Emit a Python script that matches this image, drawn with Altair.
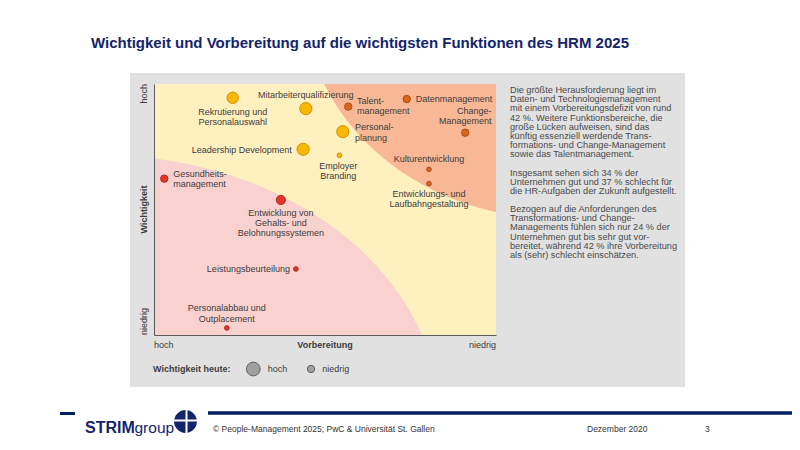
import altair as alt
import pandas as pd
import numpy as np

# ---------------- data ----------------
funktionen = [
    "Rekrutierung und\nPersonalauswahl", "Mitarbeiterqualifizierung", "Talent-\nmanagement",
    "Datenmanagement", "Change-\nManagement", "Personal-\nplanung", "Leadership Development",
    "Employer\nBranding", "Kulturentwicklung", "Entwicklungs- und\nLaufbahngestaltung",
    "Gesundheits-\nmanagement", "Entwicklung von\nGehalts- und\nBelohnungssystemen",
    "Leistungsbeurteilung", "Personalabbau und\nOutplacement",
]
vorbereitung = [23.0, 44.4, 56.8, 73.9, 91.0, 55.2, 43.6, 54.2, 80.4, 80.4, 3.0, 37.1, 41.5, 21.3]
wichtigkeit = [94.5, 90.2, 91.0, 94.0, 80.6, 81.0, 74.0, 71.6, 66.0, 60.3, 62.3, 53.8, 26.3, 2.8]
heute = [130, 150, 55, 55, 55, 150, 150, 22, 22, 22, 55, 85, 22, 22]
zone = ["gelb", "gelb", "orange", "orange", "orange", "gelb", "gelb", "gelb",
        "orange", "orange", "rot", "rot", "rot", "rot"]
# label placement relative to the point (px, first text line) and alignment
label_dx = [0, 0, 8.7, 9, 26.4, 12.3, -11.3, -1, 0, 0, 9, 0, -6, 0]
label_dy = [14, -13.7, -5.7, 0, -21.7, -4.4, 1, 10.7, -10, 10.3, -4.7, 12.7, 0.3, -19.7]
label_align = ["center", "center", "left", "left", "right", "left", "right", "center",
               "center", "center", "left", "center", "right", "center"]

side_paragraphs = [
    "Die größte Herausforderung liegt im\n"
    "Daten- und Technologiemanagement\n"
    "mit einem Vorbereitungsdefizit von rund\n"
    "42 %. Weitere Funktionsbereiche, die\n"
    "große Lücken aufweisen, sind das\n"
    "künftig essenziell werdende Trans-\n"
    "formations- und Change-Management\n"
    "sowie das Talentmanagement.",
    "Insgesamt sehen sich 34 % der\n"
    "Unternehmen gut und 37 % schlecht für\n"
    "die HR-Aufgaben der Zukunft aufgestellt.",
    "Bezogen auf die Anforderungen des\n"
    "Transformations- und Change-\n"
    "Managements fühlen sich nur 24 % der\n"
    "Unternehmen gut bis sehr gut vor-\n"
    "bereitet, während 42 % ihre Vorbereitung\n"
    "als (sehr) schlecht einschätzen.",
]

# zone shapes (ellipse parameters in data units)
pink_c, pink_ax = (-15.8, -33.9), (99.4, 105.6)
orange_c, orange_ax = (118.7, 133.5), (74.6, 87.3)

# ---------------- geometry ----------------
W, H = 342, 251
FONT = "Liberation Sans"
NAVY = "#14246a"
TXT = "#3c3c3c"

df = pd.DataFrame({
    "funktion": funktionen, "x": vorbereitung, "y": wichtigkeit,
    "heute": heute, "zone": zone,
    "dx": label_dx, "dy": label_dy, "align": label_align,
})
df["lx"] = df["x"] + df["dx"] / W * 100
df["ly"] = df["y"] - df["dy"] / H * 100

# pink zone (bottom-left)
cx, cy = pink_c; a, b = pink_ax
xe = cx + a * np.sqrt(1 - (cy / b) ** 2)
xs = np.linspace(0, xe, 120)
ys = np.clip(cy + b * np.sqrt(np.clip(1 - ((xs - cx) / a) ** 2, 0, None)), 0, 100)
pink = pd.DataFrame({"x": xs, "y": ys, "y2": 0.0})

# orange zone (top-right)
cx, cy = orange_c; a, b = orange_ax
xs0 = cx - a * np.sqrt(1 - ((100 - cy) / b) ** 2)
xs = np.linspace(xs0, 100, 120)
ys = np.clip(cy - b * np.sqrt(np.clip(1 - ((xs - cx) / a) ** 2, 0, None)), 0, 100)
orange = pd.DataFrame({"x": xs, "y": ys, "y2": 100.0})

xsc = alt.Scale(domain=[0, 100], nice=False, zero=False)
ysc = alt.Scale(domain=[0, 100], nice=False, zero=False)
ax_style = dict(labels=False, ticks=False, title=None, grid=False, domain=True,
                domainColor="#5a5a5a", domainWidth=1, zindex=1)

one = pd.DataFrame({"a": [0]})

def vtext(text, x, y, size=9, bold=False, align="left", baseline="middle", color=TXT,
          angle=0, line_height=None):
    kw = dict(text=text, font=FONT, fontSize=size, fontWeight="bold" if bold else "normal",
              align=align, baseline=baseline, color=color, angle=angle, lineBreak="\n")
    if line_height:
        kw["lineHeight"] = line_height
    return alt.Chart(one).mark_text(**kw).encode(x=alt.value(x), y=alt.value(y))

layers = []
# grey panel
layers.append(alt.Chart(one).mark_rect(color="#e1e1e1").encode(
    x=alt.value(-24), x2=alt.value(531), y=alt.value(-11), y2=alt.value(303)))
# yellow plot background
layers.append(alt.Chart(pd.DataFrame({"x0": [0], "x1": [100], "y0": [0], "y1": [100]}))
              .mark_rect(color="#fff0c0").encode(
    x=alt.X("x0:Q", scale=xsc, axis=alt.Axis(**ax_style)), x2="x1",
    y=alt.Y("y0:Q", scale=ysc, axis=alt.Axis(**ax_style)), y2="y1"))
layers.append(alt.Chart(pink).mark_area(color="#f9d2cf", interpolate="linear").encode(
    x=alt.X("x:Q", scale=xsc), y=alt.Y("y:Q", scale=ysc), y2="y2"))
layers.append(alt.Chart(orange).mark_area(color="#f8b895", interpolate="linear").encode(
    x=alt.X("x:Q", scale=xsc), y=alt.Y("y:Q", scale=ysc), y2="y2"))

# points
layers.append(alt.Chart(df).mark_point(filled=True, opacity=1, strokeWidth=0.9, shape="circle").encode(
    x=alt.X("x:Q", scale=xsc), y=alt.Y("y:Q", scale=ysc),
    size=alt.Size("heute:Q", scale=alt.Scale(domain=[0, 200], range=[0, 200]), legend=None),
    fill=alt.Fill("zone:N", scale=alt.Scale(domain=["gelb", "orange", "rot"],
                                            range=["#f8b800", "#d8651c", "#e5352b"]), legend=None),
    stroke=alt.Stroke("zone:N", scale=alt.Scale(domain=["gelb", "orange", "rot"],
                                                range=["#c98a00", "#a84810", "#a8201c"]), legend=None),
))
# labels
for al in ["left", "center", "right"]:
    layers.append(alt.Chart(df[df["align"] == al]).mark_text(
        font=FONT, fontSize=9, align=al, baseline="middle", color=TXT, lineBreak="\n",
        lineHeight=10.4).encode(
        x=alt.X("lx:Q", scale=xsc), y=alt.Y("ly:Q", scale=ysc), text="funktion:N"))

# axis texts
layers += [
    vtext("hoch", -10, 0, align="right", angle=270),
    vtext("Wichtigkeit", -10, H / 2, bold=True, align="center", angle=270),
    vtext("niedrig", -10, H, align="left", angle=270),
    vtext("hoch", 0, 261, align="left"),
    vtext("Vorbereitung", W / 2, 261, bold=True, align="center"),
    vtext("niedrig", W, 261, align="right"),
]
# legend
layers += [
    vtext("Wichtigkeit heute:", -1, 285, bold=True),
    alt.Chart(one).mark_point(filled=True, fill="#a0a0a0", stroke="#5a5a5a", strokeWidth=0.9,
                              opacity=1, shape="circle").encode(
        x=alt.value(99.3), y=alt.value(285), size=alt.value(190)),
    vtext("hoch", 113.7, 285),
    alt.Chart(one).mark_point(filled=True, fill="#a0a0a0", stroke="#5a5a5a", strokeWidth=0.9,
                              opacity=1, shape="circle").encode(
        x=alt.value(157), y=alt.value(285), size=alt.value(55)),
    vtext("niedrig", 168.3, 285),
]
# side text (first-line anchors)
for para, ytop in zip(side_paragraphs, [6, 88.7, 125]):
    layers.append(vtext(para, 356, ytop, size=9.2, align="left", color="#4a4a4a",
                        line_height=9.2))
# title
layers.append(vtext("Wichtigkeit und Vorbereitung auf die wichtigsten Funktionen des HRM 2025",
                    -63, -36, size=15, bold=True, baseline="alphabetic", color=NAVY))
# footer lines
layers.append(alt.Chart(one).mark_rule(color="#002060", strokeWidth=3).encode(
    x=alt.value(-94), x2=alt.value(-79), y=alt.value(329.5)))
layers.append(alt.Chart(one).mark_rule(color="#002060", strokeWidth=3.5).encode(
    x=alt.value(54), x2=alt.value(640), y=alt.value(329)))
# logo
layers.append(vtext("STRIM", -69, 349, size=16, bold=True, baseline="alphabetic", color="#14246a"))
layers.append(vtext("group", -19.5, 349, size=15.5, baseline="alphabetic", color="#14246a"))
layers.append(alt.Chart(one).mark_point(filled=True, fill="#14246a", opacity=1, shape="circle").encode(
    x=alt.value(31.5), y=alt.value(337.5), size=alt.value(520)))
layers.append(alt.Chart(one).mark_rule(color="white", strokeWidth=2).encode(
    x=alt.value(32.5), y=alt.value(323), y2=alt.value(352)))
layers.append(alt.Chart(one).mark_rule(color="white", strokeWidth=2).encode(
    x=alt.value(16), x2=alt.value(47), y=alt.value(336.5)))
# footer texts
layers += [
    vtext("© People-Management   2025;  PwC & Universität  St. Gallen", 59, 344.5, size=8.5, color="#333333"),
    vtext("Dezember  2020", 433, 345, size=8.5, color="#333333"),
    vtext("3", 551, 345, size=8.5, color="#333333"),
]

chart = alt.layer(*layers).properties(
    width=W, height=H,
    padding={"left": 146, "top": 76, "right": 784 - 146 - W, "bottom": 434 - 76 - H},
    autosize=alt.AutoSizeParams(type="none"),
    background="white",
).configure_view(stroke=None)

chart.save("out.html", embed_options={"renderer": "svg", "actions": False})
